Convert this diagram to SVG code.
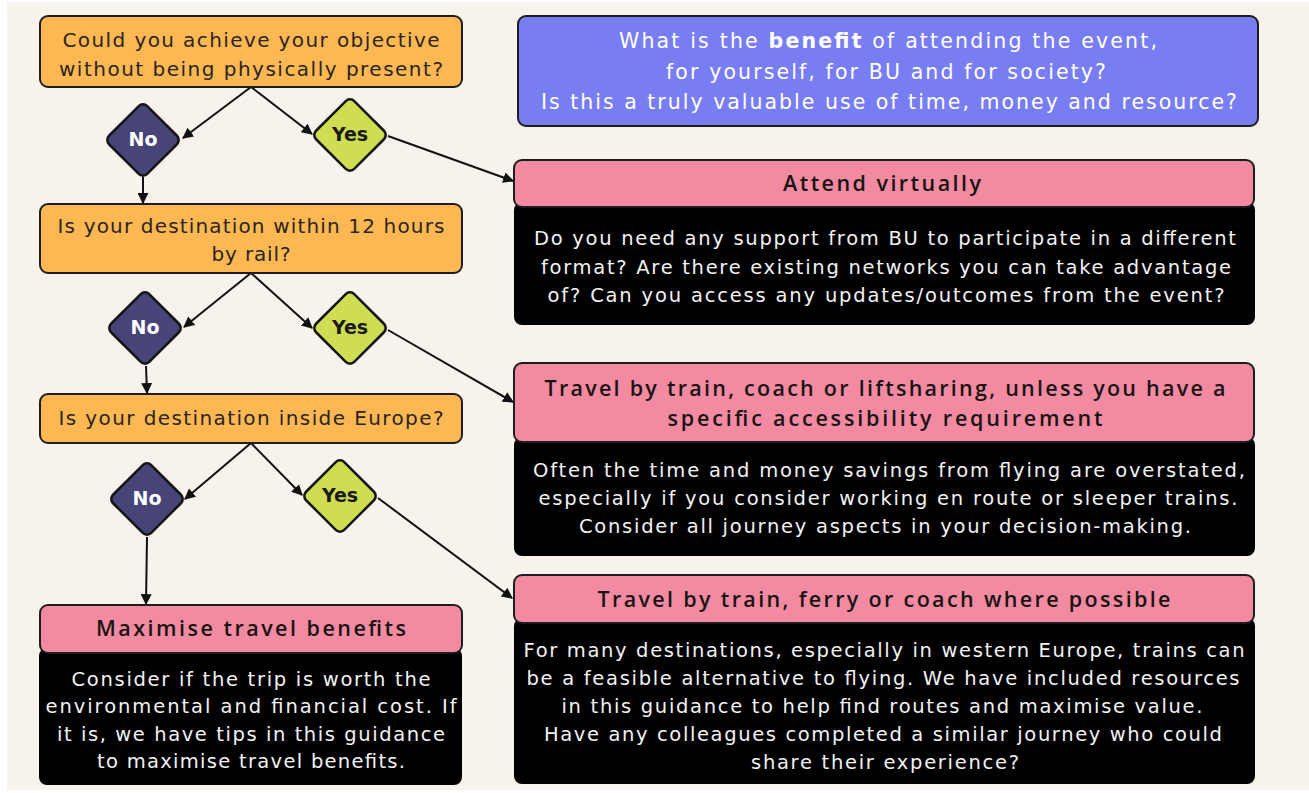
<svg xmlns="http://www.w3.org/2000/svg" width="1309" height="793" viewBox="0 0 1309 793">
  <defs>
    <marker id="arrow" viewBox="0 0 10 10" refX="9" refY="5" markerWidth="5.5" markerHeight="5.5" orient="auto" markerUnits="strokeWidth">
      <path d="M0,0 L10,5 L0,10 z" fill="#111"/>
    </marker>
    <style>
      .q { fill: #fdb853; stroke: #1d1d1d; stroke-width: 2; }
      .head { fill: #f28ba1; stroke: #1d1d1d; stroke-width: 2; }
      .body { fill: #000; }
      .ask { fill: #787ef2; stroke: #1d1d1d; stroke-width: 2; }
      .no { fill: #474478; stroke: #141414; stroke-width: 2.5; stroke-linejoin: round; }
      .yes { fill: #cfdd52; stroke: #141414; stroke-width: 2.5; stroke-linejoin: round; }
      text { font-family: "DejaVu Sans", "Liberation Sans", sans-serif; text-anchor: middle; }
      .qt { font-size: 20px; fill: #2a2520; }
      .ht { font-family: "Open Sans", "Liberation Sans", sans-serif; font-size: 21.5px; fill: #1a1414; font-weight: 600; }
      .bt { font-size: 19.5px; fill: #f2f2f2; }
      .at { font-size: 20.5px; fill: #ffffff; }
      .nt { font-size: 19px; fill: #ffffff; font-weight: 700; }
      .yt { font-size: 19px; fill: #1a1a1a; font-weight: 700; }
      .wire { fill: none; stroke: #111; stroke-width: 2; marker-end: url(#arrow); }
    </style>
  </defs>

  <!-- page -->
  <rect x="0" y="0" width="1309" height="793" fill="#ffffff"/>
  <rect x="7" y="2" width="1302" height="788" fill="#f7f3ec"/>

  <!-- connectors -->
  <g id="connectors">
    <line class="wire" x1="251" y1="87" x2="183" y2="138"/>
    <line class="wire" x1="251" y1="87" x2="312" y2="134"/>
    <line class="wire" x1="388" y1="136" x2="513" y2="181"/>
    <line class="wire" x1="143" y1="177" x2="143" y2="203"/>

    <line class="wire" x1="251" y1="273" x2="184" y2="327"/>
    <line class="wire" x1="251" y1="273" x2="312" y2="328"/>
    <line class="wire" x1="388" y1="330" x2="513" y2="402"/>
    <line class="wire" x1="146" y1="366" x2="147" y2="393"/>

    <line class="wire" x1="251" y1="443" x2="185" y2="499"/>
    <line class="wire" x1="251" y1="443" x2="302" y2="495"/>
    <line class="wire" x1="378" y1="498" x2="512" y2="598"/>
    <line class="wire" x1="147" y1="537" x2="146" y2="604"/>
  </g>

  <!-- question 1 -->
  <g id="q1">
    <rect class="q" x="40" y="16" width="422" height="71" rx="8"/>
    <text class="qt" x="251" y="47" textLength="377" lengthAdjust="spacing">Could you achieve your objective</text>
    <text class="qt" x="251" y="76" textLength="384" lengthAdjust="spacing">without being physically present?</text>
  </g>

  <g id="no1">
    <rect class="no" x="116" y="113" width="54" height="54" rx="6" transform="rotate(45 143 140)"/>
    <text class="nt" x="143" y="146">No</text>
  </g>
  <g id="yes1">
    <rect class="yes" x="323" y="108" width="54" height="54" rx="6" transform="rotate(45 350 135)"/>
    <text class="yt" x="350" y="141">Yes</text>
  </g>

  <!-- question 2 -->
  <g id="q2">
    <rect class="q" x="40" y="204" width="422" height="69" rx="8"/>
    <text class="qt" x="251" y="233" textLength="387" lengthAdjust="spacing">Is your destination within 12 hours</text>
    <text class="qt" x="251" y="261" textLength="79" lengthAdjust="spacing">by rail?</text>
  </g>

  <g id="no2">
    <rect class="no" x="118" y="301" width="54" height="54" rx="6" transform="rotate(45 145 328)"/>
    <text class="nt" x="145" y="334">No</text>
  </g>
  <g id="yes2">
    <rect class="yes" x="323" y="301" width="54" height="54" rx="6" transform="rotate(45 350 328)"/>
    <text class="yt" x="350" y="334">Yes</text>
  </g>

  <!-- question 3 -->
  <g id="q3">
    <rect class="q" x="40" y="394" width="422" height="49" rx="8"/>
    <text class="qt" x="251" y="425" textLength="385" lengthAdjust="spacing">Is your destination inside Europe?</text>
  </g>

  <g id="no3">
    <rect class="no" x="120" y="472" width="54" height="54" rx="6" transform="rotate(45 147 499)"/>
    <text class="nt" x="147" y="505">No</text>
  </g>
  <g id="yes3">
    <rect class="yes" x="313" y="469" width="54" height="54" rx="6" transform="rotate(45 340 496)"/>
    <text class="yt" x="340" y="502">Yes</text>
  </g>

  <!-- outcome: maximise travel benefits -->
  <g id="maximise">
    <rect class="body" x="39" y="648" width="423" height="137" rx="8"/>
    <rect class="head" x="40" y="605" width="422" height="48" rx="8"/>
    <text class="ht" x="251" y="636" textLength="310" lengthAdjust="spacing">Maximise travel benefits</text>
    <text class="bt" x="251" y="686" textLength="359" lengthAdjust="spacing">Consider if the trip is worth the</text>
    <text class="bt" x="251" y="713" textLength="411" lengthAdjust="spacing">environmental and financial cost. If</text>
    <text class="bt" x="251" y="741" textLength="388" lengthAdjust="spacing">it is, we have tips in this guidance</text>
    <text class="bt" x="251" y="768" textLength="308" lengthAdjust="spacing">to maximise travel benefits.</text>
  </g>

  <!-- guiding question -->
  <g id="benefit">
    <rect class="ask" x="518" y="16" width="740" height="110" rx="8"/>
    <text class="at" x="888" y="48" textLength="538" lengthAdjust="spacing">What is the <tspan font-weight="700">benefit</tspan> of attending the event,</text>
    <text class="at" x="886" y="79" textLength="440" lengthAdjust="spacing">for yourself, for BU and for society?</text>
    <text class="at" x="889" y="109" textLength="696" lengthAdjust="spacing">Is this a truly valuable use of time, money and resource?</text>
  </g>

  <!-- outcome: attend virtually -->
  <g id="virtual">
    <rect class="body" x="514" y="202" width="741" height="123" rx="8"/>
    <rect class="head" x="514" y="160" width="740" height="47" rx="8"/>
    <text class="ht" x="882" y="191" textLength="198" lengthAdjust="spacing">Attend virtually</text>
    <text class="bt" x="885" y="245" textLength="702" lengthAdjust="spacing">Do you need any support from BU to participate in a different</text>
    <text class="bt" x="886" y="274" textLength="690" lengthAdjust="spacing">format? Are there existing networks you can take advantage</text>
    <text class="bt" x="886" y="302" textLength="677" lengthAdjust="spacing">of? Can you access any updates/outcomes from the event?</text>
  </g>

  <!-- outcome: rail within 12 hours -->
  <g id="rail">
    <rect class="body" x="514" y="437" width="741" height="119" rx="8"/>
    <rect class="head" x="514" y="363" width="740" height="79" rx="8"/>
    <text class="ht" x="885" y="396" textLength="681" lengthAdjust="spacing">Travel by train, coach or liftsharing, unless you have a</text>
    <text class="ht" x="885" y="426" textLength="435" lengthAdjust="spacing">specific accessibility requirement</text>
    <text class="bt" x="889" y="477" textLength="712" lengthAdjust="spacing">Often the time and money savings from flying are overstated,</text>
    <text class="bt" x="888" y="505" textLength="699" lengthAdjust="spacing">especially if you consider working en route or sleeper trains.</text>
    <text class="bt" x="885" y="533" textLength="612" lengthAdjust="spacing">Consider all journey aspects in your decision-making.</text>
  </g>

  <!-- outcome: within Europe -->
  <g id="europe">
    <rect class="body" x="514" y="618" width="741" height="166" rx="8"/>
    <rect class="head" x="514" y="575" width="740" height="48" rx="8"/>
    <text class="ht" x="884" y="607" textLength="573" lengthAdjust="spacing">Travel by train, ferry or coach where possible</text>
    <text class="bt" x="884" y="657" textLength="721" lengthAdjust="spacing">For many destinations, especially in western Europe, trains can</text>
    <text class="bt" x="883" y="685" textLength="713" lengthAdjust="spacing">be a feasible alternative to flying. We have included resources</text>
    <text class="bt" x="882" y="713" textLength="641" lengthAdjust="spacing">in this guidance to help find routes and maximise value.</text>
    <text class="bt" x="883" y="741" textLength="678" lengthAdjust="spacing">Have any colleagues completed a similar journey who could</text>
    <text class="bt" x="885" y="769" textLength="268" lengthAdjust="spacing">share their experience?</text>
  </g>
</svg>
